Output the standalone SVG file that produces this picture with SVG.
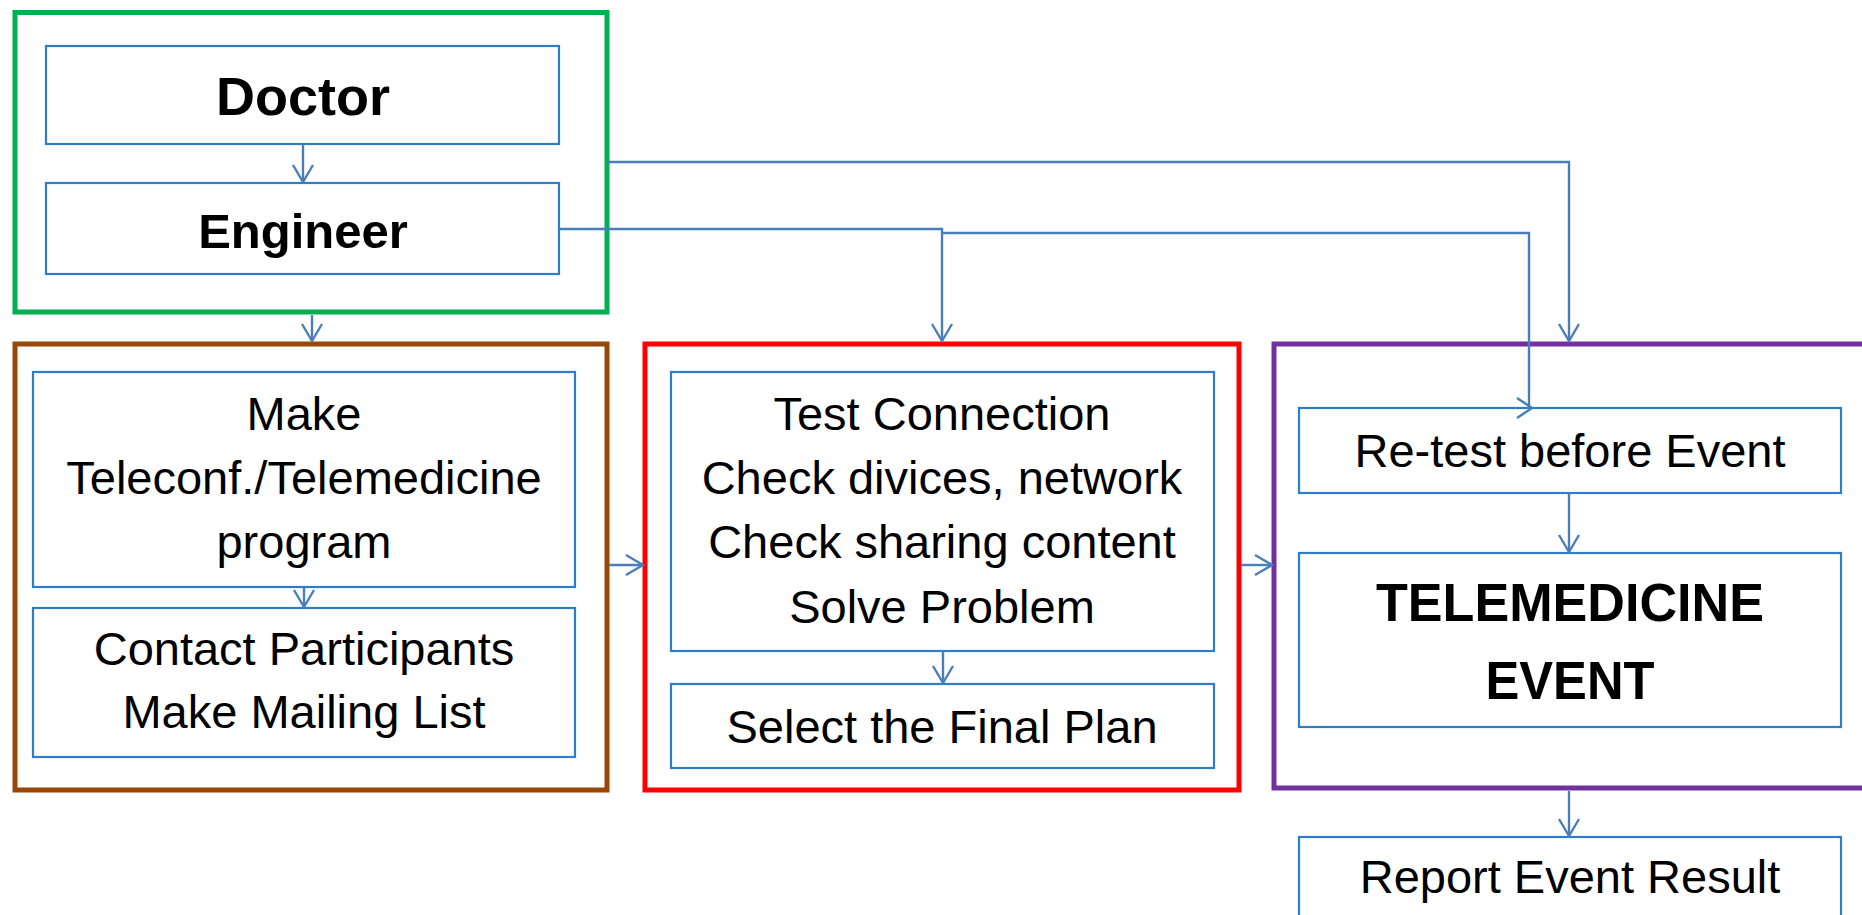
<svg xmlns="http://www.w3.org/2000/svg" width="1862" height="915" viewBox="0 0 1862 915">
<style>
.frame{fill:none;stroke-width:5}
.box{fill:#fff;stroke:#2E7DC8;stroke-width:2.2}
.conn{fill:none;stroke:#4A7EBB;stroke-width:2.4}
.t{font-family:"Liberation Sans",Arial,sans-serif;fill:#000;text-anchor:middle;font-size:47px}
.b{font-weight:bold}
</style>
<defs>
<marker id="ah" markerUnits="userSpaceOnUse" markerWidth="24" markerHeight="24" refX="0" refY="0" viewBox="-20 -12 24 24" orient="auto" overflow="visible">
<path d="M-17,-10 L0,0 L-17,10" fill="none" stroke="#4A7EBB" stroke-width="2.4"/>
</marker>
</defs>
<rect width="1862" height="915" fill="#fff"/>

<g id="group-top">
<rect class="frame" x="15" y="12.5" width="592" height="299.5" stroke="#00B050"/>
</g>
<g id="group-prepare">
<rect class="frame" x="15" y="344" width="592" height="446" stroke="#984806"/>
</g>
<g id="group-test">
<rect class="frame" x="645" y="344" width="594" height="446" stroke="#FF0000"/>
</g>
<g id="group-event">
<rect class="frame" x="1274" y="344" width="600" height="444" stroke="#7030A0"/>
</g>

<g id="doctor">
<rect class="box" x="46" y="46" width="513" height="98"/>
<text class="t b" x="303" y="115" style="font-size:54px">Doctor</text>
</g>
<g id="engineer">
<rect class="box" x="46" y="183" width="513" height="91"/>
<text class="t b" x="303" y="248" style="font-size:49px">Engineer</text>
</g>
<g id="make-program">
<rect class="box" x="33" y="372" width="542" height="215"/>
<text class="t" x="304" y="430">Make</text>
<text class="t" x="304" y="494">Teleconf./Telemedicine</text>
<text class="t" x="304" y="558">program</text>
</g>
<g id="contact">
<rect class="box" x="33" y="608" width="542" height="149"/>
<text class="t" x="304" y="665">Contact Participants</text>
<text class="t" x="304" y="728">Make Mailing List</text>
</g>
<g id="test-connection">
<rect class="box" x="671" y="372" width="543" height="279"/>
<text class="t" x="942" y="430">Test Connection</text>
<text class="t" x="942" y="494">Check divices, network</text>
<text class="t" x="942" y="558">Check sharing content</text>
<text class="t" x="942" y="623">Solve Problem</text>
</g>
<g id="final-plan">
<rect class="box" x="671" y="684" width="543" height="84"/>
<text class="t" x="942" y="743">Select the Final Plan</text>
</g>
<g id="retest">
<rect class="box" x="1299" y="408" width="542" height="85"/>
<text class="t" x="1570" y="467">Re-test before Event</text>
</g>
<g id="telemedicine-event">
<rect class="box" x="1299" y="553" width="542" height="174"/>
<text class="t b" x="1570" y="621" style="font-size:54px" textLength="388" lengthAdjust="spacingAndGlyphs">TELEMEDICINE</text>
<text class="t b" x="1570" y="699" style="font-size:54px" textLength="169" lengthAdjust="spacingAndGlyphs">EVENT</text>
</g>
<g id="report">
<rect class="box" x="1299" y="837" width="542" height="90"/>
<text class="t" x="1570" y="893">Report Event Result</text>
</g>

<g id="connectors">
<path class="conn" d="M303,144 V182" marker-end="url(#ah)"/>
<path class="conn" d="M312,315 V341" marker-end="url(#ah)"/>
<path class="conn" d="M304,587 V607" marker-end="url(#ah)"/>
<path class="conn" d="M943,651 V683" marker-end="url(#ah)"/>
<path class="conn" d="M609,565 H643" marker-end="url(#ah)"/>
<path class="conn" d="M1241,565 H1272" marker-end="url(#ah)"/>
<path class="conn" d="M1569,493 V552" marker-end="url(#ah)"/>
<path class="conn" d="M1569,791 V836" marker-end="url(#ah)"/>
<path class="conn" d="M607,162 H1569 V341" marker-end="url(#ah)"/>
<path class="conn" d="M559,229 H942 V341" marker-end="url(#ah)"/>
<path class="conn" d="M942,233 H1529 V408"/>
<path class="conn" d="M1517,398 L1532,408 L1517,418"/>
</g>
</svg>
